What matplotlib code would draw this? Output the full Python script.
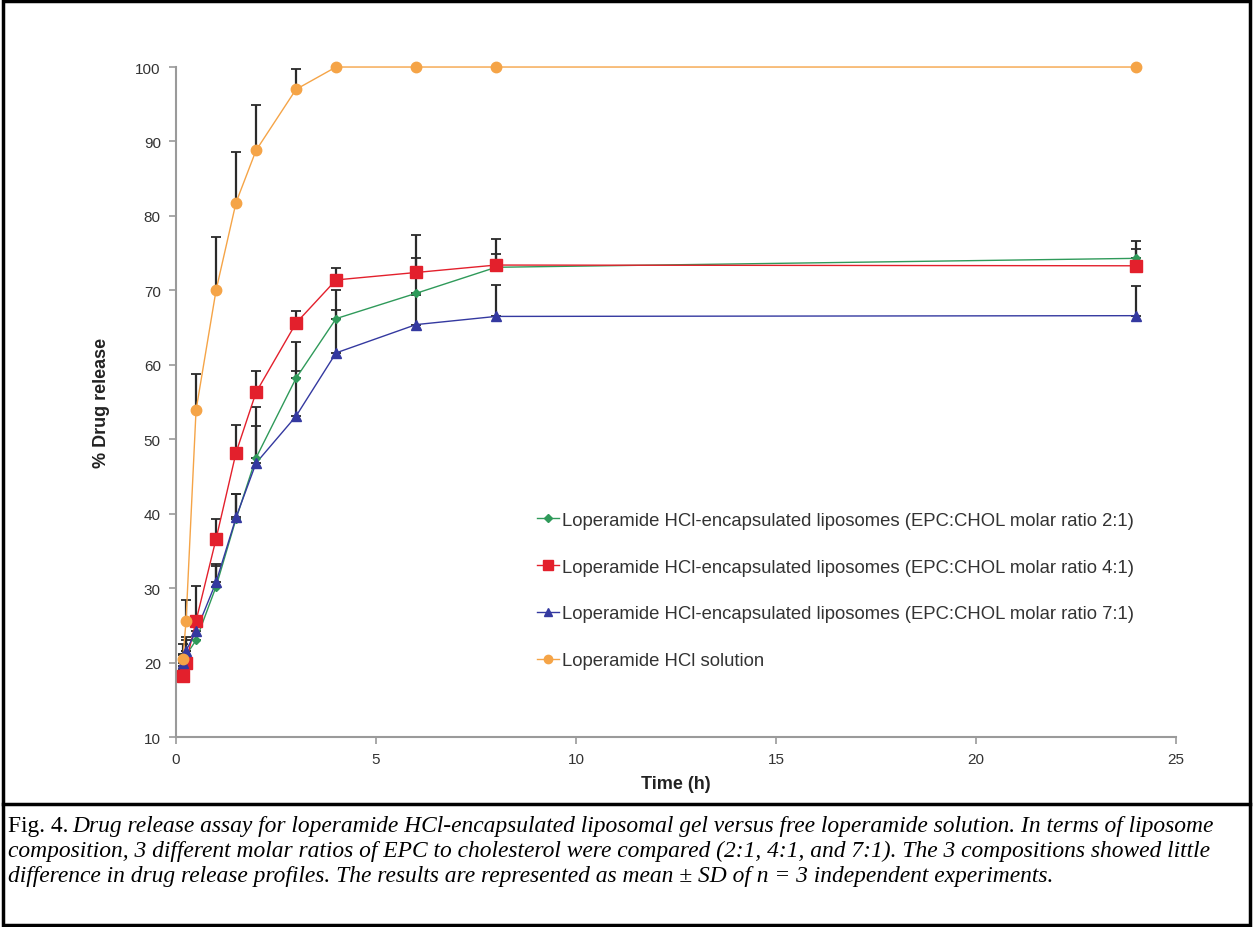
import matplotlib
matplotlib.use("Agg")
import matplotlib.pyplot as plt
from matplotlib.lines import Line2D
from matplotlib.patches import Rectangle

# time points (h)
t = [0.17, 0.25, 0.5, 1, 1.5, 2, 3, 4, 6, 8, 24]

# mean % drug release and SD (upper bars only)
lipo_21 = [19.5, 21.0, 23.0, 30.2, 39.3, 47.5, 58.2, 66.2, 69.6, 73.1, 74.3]
lipo_21_sd = [1.5, 2.0, 2.5, 3.0, 3.4, 6.8, 4.8, 3.8, 4.7, 1.8, 2.3]
lipo_41 = [18.2, 20.0, 25.6, 36.6, 48.2, 56.3, 65.6, 71.4, 72.4, 73.4, 73.3]
lipo_41_sd = [1.0, 1.5, 4.7, 2.7, 3.7, 2.9, 1.6, 1.6, 5.0, 3.5, 2.2]
lipo_71 = [20.0, 21.6, 24.2, 30.8, 39.5, 46.8, 53.1, 61.6, 65.4, 66.5, 66.6]
lipo_71_sd = [1.2, 1.8, 2.0, 2.2, 3.2, 5.0, 6.1, 5.8, 4.0, 4.2, 4.0]
solution = [20.5, 25.6, 53.9, 70.0, 81.8, 88.8, 97.0, 100.0, 100.0, 100.0, 100.0]
solution_sd = [2.0, 2.8, 4.8, 7.2, 6.8, 6.1, 2.7, 0, 0, 0, 0]

labels = [
    "Loperamide HCl-encapsulated liposomes (EPC:CHOL molar ratio 2:1)",
    "Loperamide HCl-encapsulated liposomes (EPC:CHOL molar ratio 4:1)",
    "Loperamide HCl-encapsulated liposomes (EPC:CHOL molar ratio 7:1)",
    "Loperamide HCl solution",
]

caption_1 = ("Drug release assay for loperamide HCl-encapsulated liposomal gel versus free loperamide "
             "solution. In terms of liposome")
caption_2 = ("composition, 3 different molar ratios of EPC to cholesterol were compared (2:1, 4:1, and 7:1). "
             "The 3 compositions showed little")
caption_3 = ("difference in drug release profiles. The results are represented as mean \u00b1 SD of "
             "n = 3 independent experiments.")

plt.rcParams['font.family'] = ['Liberation Sans', 'DejaVu Sans']

fig = plt.figure(figsize=(12.53, 9.28), dpi=100)
ax = fig.add_axes([0.1405, 0.2047, 0.798, 0.722])

series = [
    (lipo_21, lipo_21_sd, "#2f9a5a", "D", 4.5),
    (lipo_41, lipo_41_sd, "#e3202c", "s", 8.5),
    (lipo_71, lipo_71_sd, "#3439a0", "^", 7.5),
    (solution, solution_sd, "#f5a447", "o", 7.5),
]

handles = []
for (ys, sd, col, mk, ms), lab in zip(series, labels):
    # upward-only error bars
    ax.errorbar(t, ys, yerr=[[0] * len(sd), sd], fmt="none", ecolor="#2a2a2a",
                elinewidth=1.6, capsize=3.5, capthick=1.3, zorder=2, clip_on=False)
    ax.plot(t, ys, color=col, lw=1.0, zorder=3, clip_on=False)
    ax.plot(t, ys, ls="none", marker=mk, ms=ms, color=col, mec=col, zorder=4, clip_on=False)
    handles.append(Line2D([], [], color=col, lw=1.0, marker=mk, ms=ms * 0.8, mec=col))

ax.set_xlim(0, 25)
ax.set_ylim(10, 100)
ax.set_xticks([0, 5, 10, 15, 20, 25])
ax.set_yticks(range(10, 101, 10))
for s in ["top", "right"]:
    ax.spines[s].set_visible(False)
for s in ["left", "bottom"]:
    ax.spines[s].set_color("#9a9a9a")
    ax.spines[s].set_linewidth(1.5)
ax.tick_params(colors="#9a9a9a", labelcolor="#333333", labelsize=11, length=5, width=1.2)
ax.tick_params(axis="y", pad=6)
ax.tick_params(axis="x", pad=6)

ax.set_xlabel("Time (h)", fontsize=13, fontweight="bold", color="#222222", labelpad=6)
ax.set_ylabel("% Drug release", fontsize=13, fontweight="bold", color="#222222", labelpad=18)

ax.legend(handles, labels, loc="center left", bbox_to_anchor=(0.344, 0.2187), frameon=False,
          fontsize=13.3, labelspacing=1.62, handlelength=1.2, handletextpad=0.15,
          labelcolor="#333333")

# frame around the figure and caption separator
fig.add_artist(Rectangle((0.002, 0.002), 0.996, 0.996, transform=fig.transFigure,
                         fill=False, ec="black", lw=2.5))
fig.add_artist(Line2D([0.002, 0.998], [1 - 805 / 928] * 2, transform=fig.transFigure,
                      color="black", lw=2.5))

cap_kw = dict(fontsize=16.9, family=["Liberation Serif", "DejaVu Serif"], color="black",
              transform=fig.transFigure, va="baseline")
y1 = 1 - 832 / 928
fig.text(0.0065, y1, "Fig. 4.", style="normal", **cap_kw)
fig.text(0.0065 + 0.0515, y1, caption_1, style="italic", **cap_kw)
fig.text(0.0065, 1 - 857 / 928, caption_2, style="italic", **cap_kw)
fig.text(0.0065, 1 - 882 / 928, caption_3, style="italic", **cap_kw)

fig.savefig("out.png", dpi=100)
